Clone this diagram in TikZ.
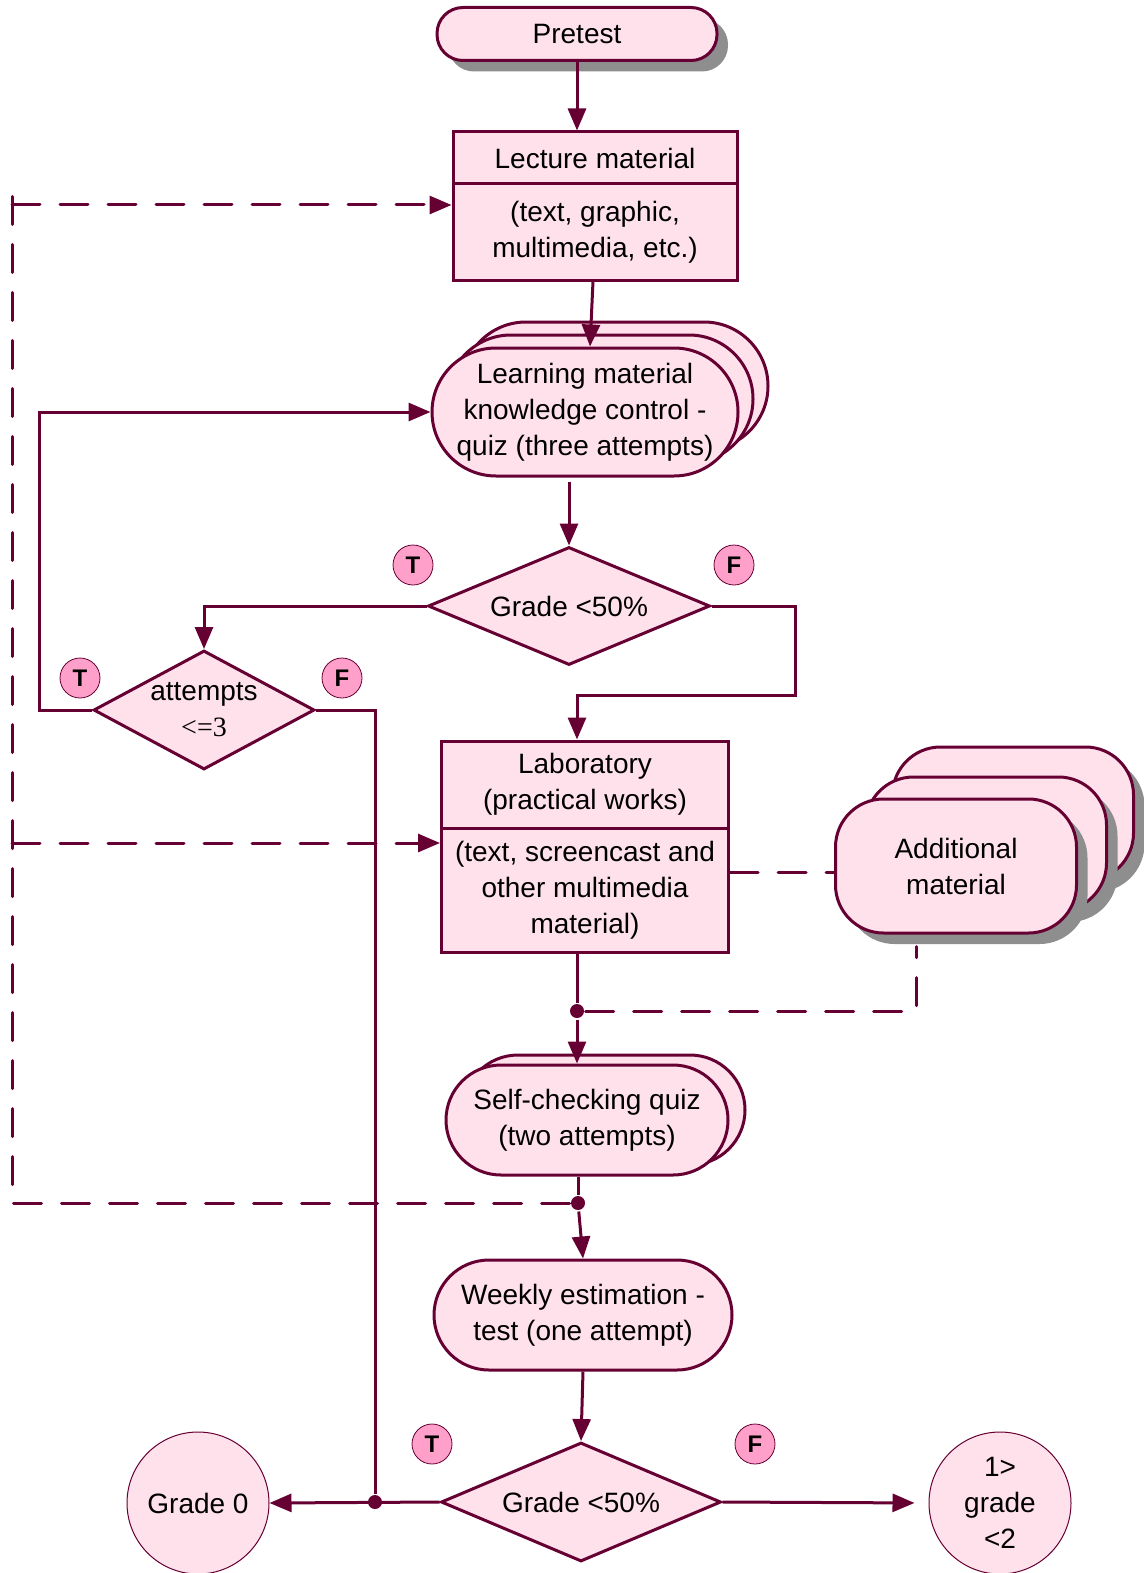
\documentclass[tikz,border=0pt]{standalone}
\usepackage{fontspec}
\setmainfont{Liberation Sans}
\newfontfamily\timesfont{Liberation Serif}
\usetikzlibrary{shapes, arrows.meta, shadows, calc, positioning}

\definecolor{wine}{HTML}{660033}
\definecolor{blush}{HTML}{FFE1EC}
\definecolor{rosy}{HTML}{FFA0CA}
\definecolor{shade}{HTML}{8E8E8E}

\tikzset{
  box/.style={draw, fill=blush, inner sep=0pt, align=center},
  pill/.style={box, rounded corners=#1},
  cond/.style={box, diamond, aspect=2.4},
  tf/.style={circle, draw, thin, fill=rosy, inner sep=0pt, minimum size=20pt, font=\bfseries\fontsize{12pt}{12pt}\selectfont},
  grade/.style={circle, draw, line width=0.5pt, fill=blush, inner sep=0pt, minimum size=71pt, align=center},
  joint/.style={circle, fill, inner sep=0pt, minimum size=7pt},
  dashline/.style={dash pattern=on 14pt off 10pt, line cap=round},
  shade3/.style={drop shadow={shadow xshift=5.5pt, shadow yshift=-5.5pt, fill=shade, opacity=1}},
}

\begin{document}
\begin{tikzpicture}[x=0.5pt, y=-0.5pt, >={Triangle[length=11pt,width=9pt]}, color=wine, text=black, line width=1.5pt, font=\fontsize{14pt}{18pt}\selectfont]
	\useasboundingbox (0,0) rectangle (1144,1573);
	\clip (0,0) rectangle (1144,1573);

	% top part
	\node[pill=13pt, minimum width=140pt, minimum height=26.5pt, shade3] (pre) at (577,34) {Pretest};
	\node[box, minimum width=142pt, minimum height=26pt] (lecT) at (595,158) {Lecture material};
	\node[box, minimum width=142pt, minimum height=48pt] (lecB) at (595,232) {(text, graphic,\\multimedia, etc.)};
	\foreach \i in {2,1}
		\node[pill=32pt, minimum width=153pt, minimum height=64pt] at (585+15*\i,412-13*\i) {};
	\node[pill=32pt, minimum width=153pt, minimum height=64pt] (learn) at (585,412) {Learning material\\knowledge control -\\quiz (three attempts)};

	% conditions
	\node[cond, minimum width=141pt, minimum height=59pt] (g1) at (569,606) {Grade <50\%};
	\node[tf] (t1) at (413,565) {T};
	\node[tf] (f1) at (734,565) {F};
	\node[cond, minimum width=110.5pt, minimum height=59.5pt] (att) at (204,710) {};
	\node[align=center] (attTxt) at (204,710) {attempts\\{\timesfont <=3}};
	\node[tf] (t2) at (80,678) {T};
	\node[tf] (f2) at (342,678) {F};

	% laboratory
	\node[box, minimum width=143.5pt, minimum height=43.5pt] (labT) at (585,784.5) {Laboratory\\(practical works)};
	\node[box, minimum width=143.5pt, minimum height=62pt] (labB) at (585,890) {(text, screencast and\\other multimedia\\material)};
	\foreach \dx/\dy in {57/52, 30/22}
		\node[pill=24pt, minimum width=120.5pt, minimum height=67pt, shade3] at (956+\dx,866-\dy) {};
	\node[pill=24pt, minimum width=120.5pt, minimum height=67pt, shade3] (add) at (956,866) {Additional\\material};

	% quizzes and tests
	\node[pill=27.5pt, minimum width=141pt, minimum height=55pt] at (604,1110) {};
	\node[pill=27.5pt, minimum width=141pt, minimum height=55pt] (self) at (587,1120) {Self-checking quiz\\(two attempts)};
	\node[pill=27.5pt, minimum width=149pt, minimum height=55pt] (week) at (583,1315) {Weekly estimation -\\test (one attempt)};
	\node[cond, minimum width=140pt, minimum height=59.5pt] (g2) at (581,1502) {Grade <50\%};
	\node[tf] (t3) at (432,1444) {T};
	\node[tf] (f3) at (755,1444) {F};
	\node[grade] (zero) at (198,1503) {Grade 0};
	\node[grade] (pass) at (1000,1503) {1>\\grade\\<2};

	\node[joint] (j1) at (577,1011) {};
	\node[joint] (j2) at (578,1203) {};
	\node[joint] (j3) at (375,1502) {};

	% solid flow
	\draw[->] (pre.south) -- (pre.south |- lecT.north);
	\draw[->] ([xshift=-1pt]lecB.south) -- ([xshift=2.5pt]learn.north);
	\draw[->] ([yshift=-2pt]g1.north |- learn.south) -- (g1.north);
	\draw[->] (g1.west) -| (att.north);
	\draw[->] (g1.east) -- ++(84,0) -- ++(0,89) -| ([xshift=-4pt]labT.north);
	\draw[->] (att.west) -- ++(-53,0) |- (learn.west);
	\draw (att.east) -| (j3);
	\draw ([xshift=-4pt]labB.south) -- (j1);
	\draw[->] (j1) -- (j1 |- self.north);
	\draw (j2 |- self.south) -- (j2);
	\draw[->] (j2) -- (week.north);
	\draw[->] (week.south) -- (g2.north);
	\draw[->] (g2.west) -- (zero.east);
	\draw[->, shorten >=7pt] (g2.east) -- (pass.west);

	% dashed returns
	\draw[dashline] (j2) -- (12,1203) -- (12,193);
	\draw[dashline, ->] (12,205) -- (lecB.west |- 0,205);
	\draw[dashline, ->] (12,843) -- (labB.west |- 0,843);
	\draw[dashline] (labB.east |- 0,872) -- (add.west |- 0,872);
	\draw[dashline] (j1) -| ($(add.south)+(-40,12)$);
\end{tikzpicture}
\end{document}
